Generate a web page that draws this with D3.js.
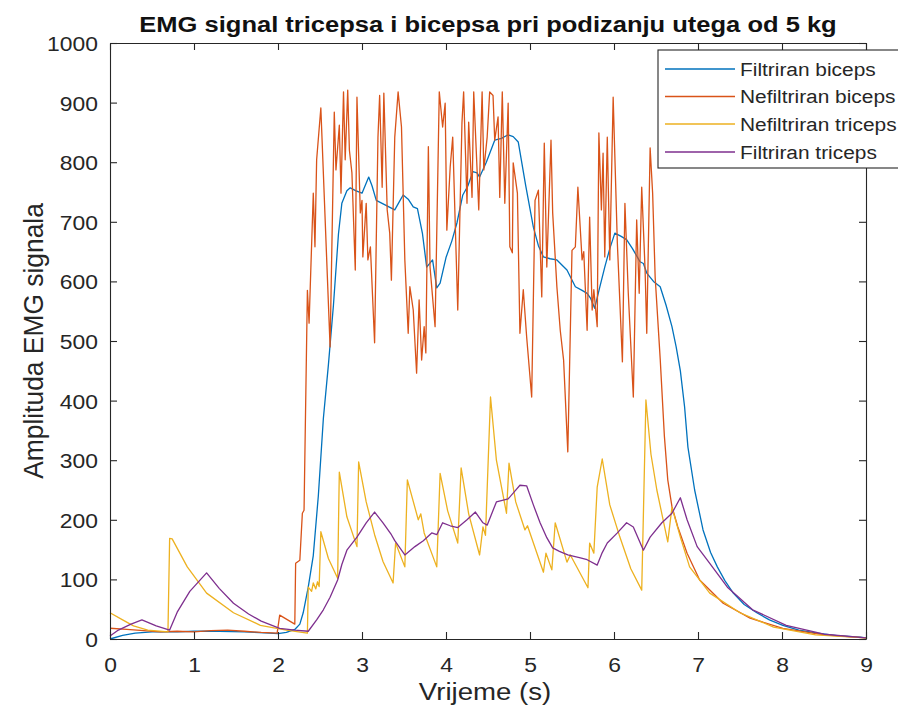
<!DOCTYPE html>
<html><head><meta charset="utf-8">
<script src="https://cdn.jsdelivr.net/npm/d3@7"></script>
<style>body{margin:0;background:#fff}svg{display:block}</style>
</head><body>
<svg id="chart" width="898" height="711"></svg>
<script>
// ---------- data ----------
const titleText = "EMG signal tricepsa i bicepsa pri podizanju utega od 5 kg";
const xLabelText = "Vrijeme (s)";
const yLabelText = "Amplituda EMG signala";
const xTicks = [0,1,2,3,4,5,6,7,8,9];
const yTicks = [0,100,200,300,400,500,600,700,800,900,1000];
const seriesNames = ["Filtriran biceps","Nefiltriran biceps","Nefiltriran triceps","Filtriran triceps"];
const seriesColors = ["#0072BD","#D95319","#EDB120","#7E2F8E"];

// [time (s), amplitude]
const filtriranBiceps = [[0,0],[0.15,6],[0.3,10],[0.5,12],[0.8,12],[1.0,13],[1.3,13],[1.6,12],[1.9,10],[2.0,9],[2.1,11],[2.2,16],[2.26,25],[2.3,44],[2.36,87],[2.42,140],[2.48,240],[2.54,370],[2.6,460],[2.66,560],[2.72,680],[2.76,731],[2.82,752],[2.86,757],[2.93,752],[3.0,748],[3.08,775],[3.12,760],[3.17,736],[3.28,728],[3.39,720],[3.45,735],[3.49,745],[3.55,738],[3.61,725],[3.66,722],[3.72,680],[3.77,624],[3.84,636],[3.89,589],[3.93,597],[4.0,640],[4.07,668],[4.13,698],[4.2,745],[4.26,760],[4.32,784],[4.37,782],[4.4,775],[4.48,800],[4.58,837],[4.66,840],[4.74,846],[4.8,843],[4.86,834],[4.95,760],[5.04,691],[5.1,660],[5.16,641],[5.24,638],[5.32,636],[5.44,619],[5.54,591],[5.62,585],[5.68,580],[5.72,572],[5.77,555],[5.83,590],[5.89,624],[5.95,655],[6.01,681],[6.08,676],[6.15,670],[6.22,655],[6.31,633],[6.35,630],[6.39,614],[6.47,600],[6.55,591],[6.62,560],[6.69,524],[6.74,490],[6.79,450],[6.84,390],[6.88,322],[6.96,250],[7.06,183],[7.15,145],[7.23,121],[7.32,98],[7.42,77],[7.55,58],[7.7,44],[7.85,32],[8.01,23],[8.2,15],[8.42,10],[8.7,5],[8.93,3],[9.0,2]];

const nefiltriranBiceps = [[0,18],[0.2,16],[0.4,14],[0.6,12],[0.8,13],[1.0,12],[1.2,14],[1.4,15],[1.6,13],[1.8,11],[1.99,10],[2.02,40],[2.2,25],[2.21,127],[2.26,132],[2.29,211],[2.31,216],[2.35,585],[2.37,530],[2.42,748],[2.44,658],[2.46,804],[2.51,891],[2.62,490],[2.67,884],[2.69,787],[2.73,862],[2.75,748],[2.78,918],[2.8,804],[2.83,921],[2.85,820],[2.88,782],[2.92,619],[2.94,909],[2.98,715],[3.0,736],[3.01,641],[3.05,731],[3.07,636],[3.1,658],[3.15,497],[3.19,842],[3.21,912],[3.24,758],[3.26,916],[3.3,720],[3.33,681],[3.35,602],[3.39,842],[3.43,918],[3.47,859],[3.51,636],[3.55,513],[3.57,591],[3.61,552],[3.65,446],[3.68,569],[3.71,468],[3.74,524],[3.76,480],[3.79,826],[3.81,624],[3.87,524],[3.92,918],[3.96,859],[3.99,899],[4.01,686],[4.05,792],[4.08,842],[4.14,552],[4.19,866],[4.21,918],[4.25,731],[4.27,867],[4.31,741],[4.33,918],[4.37,787],[4.39,720],[4.43,918],[4.45,787],[4.49,842],[4.52,918],[4.56,912],[4.58,837],[4.62,876],[4.64,741],[4.67,918],[4.7,731],[4.74,899],[4.76,658],[4.79,648],[4.8,799],[4.85,748],[4.88,513],[4.92,586],[4.96,507],[5.02,406],[5.06,736],[5.1,753],[5.14,574],[5.17,832],[5.2,624],[5.25,837],[5.27,715],[5.32,591],[5.36,518],[5.4,468],[5.45,314],[5.5,652],[5.54,658],[5.57,758],[5.62,636],[5.64,650],[5.68,518],[5.71,708],[5.74,552],[5.76,586],[5.8,524],[5.82,849],[5.85,720],[5.87,815],[5.89,641],[5.92,842],[5.95,636],[5.99,909],[6.04,664],[6.1,465],[6.13,731],[6.17,580],[6.23,406],[6.27,703],[6.3,580],[6.33,758],[6.37,620],[6.39,513],[6.43,824],[6.46,748],[6.49,607],[6.55,470],[6.6,340],[6.64,267],[6.69,222],[6.76,188],[6.87,144],[7.02,99],[7.3,60],[7.62,35],[8.01,18],[8.5,7],[9,2]];

const nefiltriranTriceps = [[0,44],[0.15,32],[0.28,22],[0.45,15],[0.69,12],[0.71,169],[0.74,168],[0.92,121],[1.15,77],[1.47,44],[1.79,23],[2.1,15],[2.35,10],[2.36,87],[2.4,80],[2.42,94],[2.45,84],[2.47,96],[2.49,88],[2.51,180],[2.6,135],[2.71,102],[2.73,280],[2.82,205],[2.94,155],[2.96,297],[3.05,230],[3.15,175],[3.25,130],[3.37,94],[3.4,161],[3.51,121],[3.54,267],[3.67,200],[3.7,210],[3.74,178],[3.89,121],[3.93,278],[4.02,215],[4.14,161],[4.18,287],[4.27,210],[4.4,141],[4.44,188],[4.47,174],[4.53,406],[4.6,300],[4.72,211],[4.75,295],[4.83,230],[4.94,183],[4.97,190],[5.16,112],[5.19,144],[5.26,116],[5.3,195],[5.44,129],[5.48,141],[5.69,86],[5.71,161],[5.76,144],[5.8,255],[5.86,302],[5.95,225],[6.07,171],[6.2,118],[6.33,82],[6.38,401],[6.44,310],[6.51,250],[6.64,163],[6.69,221],[6.79,171],[6.9,121],[7.14,77],[7.5,44],[7.9,20],[8.4,7],[9,2]];

const filtriranTriceps = [[0,5],[0.1,15],[0.25,25],[0.38,32],[0.55,22],[0.71,15],[0.8,45],[0.95,80],[1.15,111],[1.3,85],[1.47,60],[1.65,42],[1.8,30],[2.02,18],[2.2,15],[2.36,13],[2.46,32],[2.54,49],[2.62,70],[2.71,99],[2.76,125],[2.82,149],[2.94,171],[3.05,195],[3.15,213],[3.25,195],[3.35,175],[3.39,165],[3.51,141],[3.63,155],[3.73,165],[3.83,178],[3.89,175],[3.96,195],[4.05,190],[4.14,187],[4.25,200],[4.35,213],[4.44,195],[4.49,191],[4.6,230],[4.74,235],[4.82,248],[4.88,258],[4.96,257],[5.04,225],[5.12,195],[5.2,170],[5.27,153],[5.35,147],[5.45,141],[5.6,136],[5.68,133],[5.8,124],[5.86,145],[5.92,161],[6.04,178],[6.15,195],[6.23,188],[6.35,149],[6.43,171],[6.57,195],[6.69,211],[6.79,237],[6.87,200],[6.99,155],[7.14,127],[7.35,87],[7.65,49],[8.05,23],[8.5,8],[9,2]];

const seriesData = [filtriranBiceps, nefiltriranBiceps, nefiltriranTriceps, filtriranTriceps];

// ---------- drawing ----------
const FONT = "'Liberation Sans', Arial, Helvetica, sans-serif";
const AX = "#262626";
const svg = d3.select("#chart");
svg.append("rect").attr("width",898).attr("height",711).attr("fill","#fff");

const x = d3.scaleLinear().domain([0,9]).range([110,866]);
const y = d3.scaleLinear().domain([0,1000]).range([639,43]);

const line = d3.line().x(d=>x(d[0])).y(d=>y(d[1]));
const plot = svg.append("g");
seriesData.forEach((s,i)=>{
  plot.append("path").datum(s).attr("d",line)
    .attr("fill","none").attr("stroke",seriesColors[i])
    .attr("stroke-width",1.3).attr("stroke-linejoin","round");
});

function styleAxis(g, fs, sx){
  g.select(".domain").attr("stroke",AX).attr("stroke-width",1.1);
  g.selectAll(".tick line").attr("stroke",AX).attr("stroke-width",1.1);
  g.selectAll(".tick text").attr("fill",AX).attr("font-size",fs)
    .attr("font-family",FONT).attr("transform",`scale(${sx},1)`);
}
const gB = svg.append("g").attr("transform","translate(0,639)")
  .call(d3.axisBottom(x).tickValues(xTicks).tickFormat(d3.format("d")).tickSizeInner(-7).tickSizeOuter(0).tickPadding(18));
styleAxis(gB,21,1.09);
const gL = svg.append("g").attr("transform","translate(110,0)")
  .call(d3.axisLeft(y).tickValues(yTicks).tickFormat(d3.format("d")).tickSizeInner(-7).tickSizeOuter(0).tickPadding(11));
styleAxis(gL,21,1.09);
gL.selectAll(".tick text").attr("dy","0.36em");
const gT = svg.append("g").attr("transform","translate(0,43)")
  .call(d3.axisTop(x).tickValues(xTicks).tickFormat("").tickSizeInner(-7).tickSizeOuter(0));
styleAxis(gT,21,1);
const gR = svg.append("g").attr("transform","translate(866,0)")
  .call(d3.axisRight(y).tickValues(yTicks).tickFormat("").tickSizeInner(-7).tickSizeOuter(0));
styleAxis(gR,21,1);

function label(xp, yp, str, fs, weight, sx, sy, rot){
  svg.append("text")
    .attr("transform",`translate(${xp},${yp})` + (rot?` rotate(${rot})`:"") + ` scale(${sx},${sy})`)
    .attr("text-anchor","middle").attr("font-family",FONT)
    .attr("font-size",fs).attr("font-weight",weight)
    .attr("fill", weight==="bold" ? "#111" : AX).text(str);
}
label(488, 32, titleText, 22, "bold", 1.16, 1, 0);
label(485, 700, xLabelText, 24, "normal", 1.15, 1, 0);
label(43, 341, yLabelText, 24, "normal", 1.1, 1.12, -90);

// legend
const lg = svg.append("g");
lg.append("rect").attr("x",658).attr("y",50).attr("width",250).attr("height",118)
  .attr("fill","#fff").attr("stroke",AX).attr("stroke-width",1.1);
const rowY = [69, 96.5, 124, 152];
seriesNames.forEach((n,i)=>{
  lg.append("line").attr("x1",665).attr("x2",735).attr("y1",rowY[i]).attr("y2",rowY[i])
    .attr("stroke",seriesColors[i]).attr("stroke-width",1.3);
  lg.append("text").attr("transform",`translate(740,${rowY[i]+6.5}) scale(1.16,1)`)
    .attr("font-family",FONT).attr("font-size",18).attr("fill",AX).text(n);
});
</script>
</body></html>
